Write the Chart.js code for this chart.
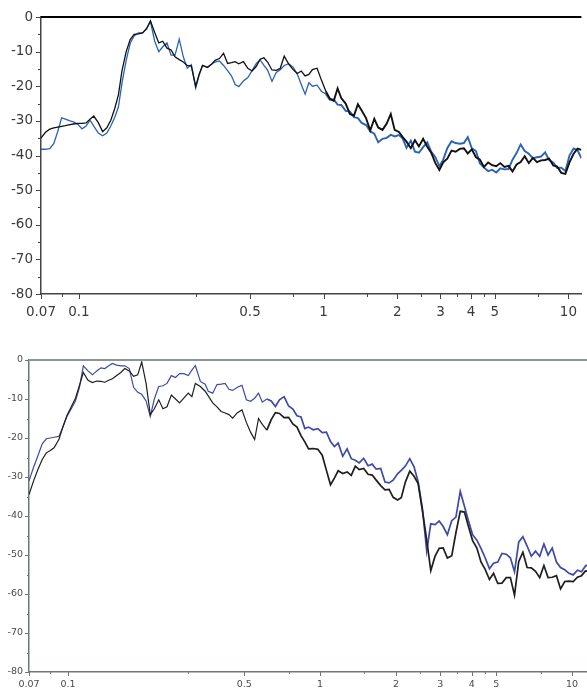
<!DOCTYPE html>
<html>
<head>
<meta charset="utf-8">
<script src="https://cdn.jsdelivr.net/npm/chart.js@4.4.1/dist/chart.umd.min.js"></script>
<style>
    html, body { margin: 0; padding: 0; background: #fff; width: 587px; height: 688px; overflow: hidden; }
    .box { position: absolute; left: 0; width: 587px; }
    #boxTop { top: 0; height: 330px; }
    #boxBottom { top: 340px; height: 370px; }
</style>
</head>
<body>
<div class="box" id="boxTop"><canvas id="chartTop"></canvas></div>
<div class="box" id="boxBottom"><canvas id="chartBottom"></canvas></div>
<script>
/* frequences (axe log) communes aux deux graphiques */
const freq = [
    0.07, 0.073, 0.076, 0.079, 0.082, 0.085, 0.088, 0.092, 0.095, 0.099,
    0.103, 0.107, 0.111, 0.115, 0.12, 0.125, 0.13, 0.135, 0.14, 0.145,
    0.15, 0.156, 0.162, 0.168, 0.175, 0.182, 0.189, 0.196, 0.204, 0.212,
    0.22, 0.229, 0.238, 0.247, 0.257, 0.267, 0.277, 0.288, 0.3, 0.31,
    0.32, 0.335, 0.35, 0.36, 0.375, 0.39, 0.405, 0.42, 0.435, 0.45,
    0.47, 0.49, 0.51, 0.53, 0.55, 0.57, 0.59, 0.615, 0.64, 0.665,
    0.69, 0.72, 0.75, 0.78, 0.81, 0.84, 0.87, 0.9, 0.94, 0.98,
    1.02, 1.06, 1.1, 1.14, 1.18, 1.23, 1.28, 1.33, 1.38, 1.43,
    1.49, 1.55, 1.61, 1.67, 1.74, 1.81, 1.88, 1.95, 2.03, 2.1,
    2.18, 2.27, 2.36, 2.45, 2.55, 2.65, 2.75, 2.86, 2.97, 3.08,
    3.2, 3.33, 3.46, 3.6, 3.74, 3.88, 4.03, 4.19, 4.35, 4.52,
    4.7, 4.88, 5.07, 5.27, 5.48, 5.69, 5.91, 6.14, 6.38, 6.63,
    6.89, 7.16, 7.44, 7.73, 8.03, 8.34, 8.67, 9.0, 9.35, 9.72,
    10.1, 10.5, 10.9, 11.3, 11.6
];

/* graphique du haut */
const topBlack = [
    -35, -33.3, -32.4, -32, -31.8, -31.6, -31.4, -31.1, -30.9, -30.7,
    -30.7, -30.6, -29.5, -28.6, -30.5, -33.1, -32, -29.8, -26.5, -22.5,
    -15.5, -10, -6.5, -5, -4.9, -4.6, -3.3, -1.1, -4.5, -7.5,
    -7, -9, -9.5, -11.5, -12.3, -13, -14, -14.2, -20, -16.5,
    -14, -14.6, -13.5, -12.5, -12, -10.5, -13.4, -13.2, -12.9, -13.5,
    -12.9, -14.8, -15.6, -14.3, -12.2, -11.8, -13, -15.3, -15.4, -14.8,
    -11.3, -13.6, -15.2, -16.3, -15.6, -17, -16.6, -15.2, -14.8, -18.3,
    -21.4, -23.6, -24.2, -20.6, -23.4, -25, -28, -28.5, -25.2, -27,
    -29.2, -32.8, -29.4, -31.9, -32.6, -30.8, -28, -32.6, -33.2, -34.6,
    -36, -37.9, -35.6, -37.4, -35.2, -37.5, -39.2, -42.2, -44.2, -42,
    -40.9, -38.6, -38.9, -38.1, -37.9, -39.4, -38.2, -40.5, -41.2, -43.3,
    -42, -42.8, -43.1, -42.2, -43.3, -43, -44.6, -42.6, -41.9, -40.2,
    -42.2, -40.7, -41.9, -41.4, -41.3, -40.9, -42.9, -43.2, -45, -45.3,
    -42, -39.5, -38, -38.4, -38.8
];
const topBlue = [
    -38.2, -38.2, -38, -36.5, -33, -29.1, -29.5, -30, -30.3, -31,
    -32.3, -31.5, -29.8, -31.5, -33.5, -34.3, -33.5, -31.5, -29, -26,
    -19, -12.5, -7.6, -5.5, -4.6, -4.6, -3.5, -1.3, -7, -10,
    -8.6, -7.5, -11, -11, -6.4, -11.5, -14.8, -13.8, -20.5, -16.8,
    -14, -14.5, -13.5, -13, -12.7, -14, -15.5, -17, -19.5, -20.1,
    -18.5, -17.5, -15.5, -13.5, -12.4, -14, -15.3, -18.6, -16, -15.2,
    -14, -13.5, -14.5, -16.5, -19.5, -22.3, -19, -20, -19.7, -21.5,
    -22.2, -23.9, -23.8, -25.3, -25.4, -27.1, -27.3, -28.9, -29.2, -30.6,
    -31.2, -33, -33.7, -36.2, -35.2, -34.9, -34, -34.5, -34.1, -35,
    -37.8, -35.7, -38.9, -39.2, -37.6, -36.2, -38.9, -40.5, -43.1, -41.2,
    -37.9, -35.9, -36.4, -36.6, -36.4, -34.7, -37.9, -38.7, -42.3, -43.5,
    -44.5, -44.1, -44.9, -43.7, -44, -43.9, -41.2, -39.3, -36.8, -38.7,
    -39.5, -40.8, -40.5, -40.3, -39.1, -41.3, -42, -43.6, -43.5, -44.5,
    -40, -38, -38.5, -40.8, -40.5
];

/* graphique du bas */
const bottomBlack = [
    -34.5, -31, -28, -25.5, -23.8, -23.2, -22.5, -20.4, -17.5, -14.2,
    -12, -9.8, -6.5, -3.2, -5.2, -5.8, -5.4, -5.5, -5.7, -5.2,
    -4.8, -4, -3.2, -2.2, -2.8, -4.2, -3.8, -0.5, -6, -14,
    -12.5, -10.2, -12.5, -12, -9, -10, -11, -9.8, -8.5, -9.4,
    -6, -6.8, -8, -9.2, -11, -12, -13.2, -13.6, -14, -14.9,
    -13.5, -12.8, -16, -18.5, -20.4, -15, -16.5, -18, -15.3, -13.5,
    -13.7, -14.8, -14.7, -16.4, -17.2, -19.4, -21, -22.8, -22.7, -22.9,
    -24.4, -28.3, -32, -30.3, -28.4, -29.1, -28.7, -29.6, -27.2, -28.1,
    -27.8, -29.3, -29.5, -30.8, -32.2, -33.3, -33.2, -35.2, -35.9, -35.3,
    -31.3, -28.5, -29.8, -31.7, -38.8, -46.2, -54, -50.3, -48.3, -48.2,
    -50.8, -50.2, -44.3, -38.8, -39, -42.7, -46.3, -48.2, -51.8, -53.7,
    -56.3, -54.7, -57.3, -57.2, -55.8, -55.8, -60.3, -51.7, -49.3, -53.2,
    -53.3, -54.2, -55.8, -52.7, -55.8, -55.7, -55.3, -58.7, -56.8, -56.7,
    -56.8, -55.7, -55.3, -54.1, -54.2
];
const bottomBlue = [
    -31, -27.5, -24.5, -21.5, -20.2, -20, -19.8, -19.6, -17.5, -14.5,
    -12.5, -10.5, -7, -1.5, -2.8, -3.8, -2.8, -2, -2.2, -1.5,
    -0.9, -1.3, -1.5, -1.5, -2.2, -7, -8.3, -8.8, -10.5, -14.5,
    -10, -6.8, -6.6, -6, -4, -4.5, -3.5, -3.5, -4, -2.6,
    -1.4, -5.5, -6.2, -8, -8.5, -6.3, -6.2, -6, -7.5, -7.8,
    -7, -6.5, -10.2, -10.6, -9.8, -8.5, -10.8, -10, -10.5, -11.9,
    -10.2, -9.4, -11.8, -12.6, -14.3, -14.6, -17.6, -17.2, -17.9, -17.6,
    -18.6, -18.5, -20.9, -22.2, -21.3, -24.7, -22.8, -25.3, -25.7, -26.4,
    -25.2, -27.1, -26.7, -28, -27.8, -31.3, -31.5, -30.8, -29.2, -28.3,
    -27.2, -25.3, -27.4, -31.2, -38.3, -49, -42, -42.2, -41.3, -42.7,
    -44.8, -41.2, -40.3, -33.7, -37.5, -41.2, -44.8, -46.2, -48.3, -50.7,
    -53.5, -52.1, -51.8, -49.6, -49.8, -50.7, -54.3, -46.7, -45.3, -47.7,
    -50.3, -49, -50.3, -47.2, -50, -48.2, -51.8, -53.2, -53.8, -54.7,
    -55.1, -53.9, -54.3, -52.8, -52.5
];

/* graduations */
const xTickValues = [0.07, 0.1, 0.5, 1, 2, 3, 4, 5, 10];
const xMinorTicks = [0.085, 0.3, 0.75, 1.5, 2.5, 3.5, 4.5, 7.5];
const yTickValues = [0, -10, -20, -30, -40, -50, -60, -70, -80];
const yMinorTicks = [-5, -15, -25, -35, -45, -55, -65, -75];

function points(values) {
    return values.map(function(v, i) {
        return { x: freq[i], y: v };
    });
}

/* dessine les petits traits des axes + la ligne du haut */
const axisTicks = {
    id: 'axisTicks',
    afterDatasetsDraw(chart, args, o) {
        const c = chart.ctx, a = chart.chartArea;
        const sx = chart.scales.x, sy = chart.scales.y;
        c.save();
        c.strokeStyle = o.tickColor;
        c.lineWidth = 1;
        c.beginPath();
        xTickValues.forEach(function(v) {
            const p = Math.round(sx.getPixelForValue(v)) + 0.5;
            c.moveTo(p, a.bottom); c.lineTo(p, a.bottom + o.major);
        });
        xMinorTicks.forEach(function(v) {
            const p = Math.round(sx.getPixelForValue(v)) + 0.5;
            c.moveTo(p, a.bottom); c.lineTo(p, a.bottom + o.minor);
        });
        yTickValues.forEach(function(v) {
            const p = Math.round(sy.getPixelForValue(v)) + 0.5;
            c.moveTo(a.left, p); c.lineTo(a.left - o.major, p);
        });
        yMinorTicks.forEach(function(v) {
            const p = Math.round(sy.getPixelForValue(v)) + 0.5;
            c.moveTo(a.left, p); c.lineTo(a.left - o.minor, p);
        });
        c.stroke();
        c.strokeStyle = o.frameColor;
        c.lineWidth = o.frameWidth;
        c.beginPath();
        c.moveTo(a.left, a.top);
        c.lineTo(a.right, a.top);
        c.stroke();
        c.restore();
    }
};

function makeChart(id, s) {
    const ctx = document.getElementById(id).getContext('2d');
    // le trait est plus epais la ou le signal est bruite
    const noisyWidth = function(seg) {
        return seg.p0.parsed.x >= s.noiseFrom ? s.noiseWidth : s.lineWidth;
    };
    return new Chart(ctx, {
        type: 'line',
        data: {
            datasets: [{
                label: 'noir',
                data: points(s.black),
                borderColor: s.blackColor,
                borderWidth: s.lineWidth,
                segment: { borderWidth: noisyWidth },
                pointRadius: 0,
                tension: 0
            }, {
                label: 'bleu',
                data: points(s.blue),
                borderColor: s.blueColor,
                borderWidth: s.lineWidth,
                segment: { borderWidth: noisyWidth },
                pointRadius: 0,
                tension: 0
            }]
        },
        options: {
            responsive: true,
            maintainAspectRatio: false,
            animation: false,
            layout: { padding: { top: s.padTop, left: 0, right: 0, bottom: 0 } },
            plugins: {
                legend: { display: false },
                tooltip: { enabled: false },
                axisTicks: {
                    tickColor: s.axisColor,
                    frameColor: s.frameColor,
                    frameWidth: 2,
                    major: s.major,
                    minor: s.minor
                }
            },
            scales: {
                x: {
                    type: 'logarithmic',
                    min: 0.07,
                    max: s.xMax,
                    afterBuildTicks: function(scale) {
                        scale.ticks = xTickValues.map(function(v) { return { value: v }; });
                    },
                    afterFit: function(scale) { scale.height = s.xHeight; },
                    grid: { display: true, drawOnChartArea: false, drawTicks: false },
                    border: { display: true, color: s.axisColor, width: 1.5 },
                    ticks: {
                        autoSkip: false,
                        maxRotation: 0,
                        padding: s.xPad,
                        color: s.textColor,
                        font: { family: "'DejaVu Sans', sans-serif", size: s.fontSize },
                        callback: function(v) { return String(v); }
                    }
                },
                y: {
                    min: -80,
                    max: 0,
                    afterFit: function(scale) { scale.width = s.yWidth; },
                    grid: { display: true, drawOnChartArea: false, drawTicks: false },
                    border: { display: true, color: s.axisColor, width: 1.5 },
                    ticks: {
                        stepSize: 10,
                        padding: s.yPad,
                        color: s.textColor,
                        font: { family: "'DejaVu Sans', sans-serif", size: s.fontSize }
                    }
                }
            }
        },
        plugins: [axisTicks]
    });
}

const chartTop = makeChart('chartTop', {
    black: topBlack, blue: topBlue,
    blackColor: '#111111', blueColor: '#2a62b8', lineWidth: 1.3,
    noiseFrom: 1.0, noiseWidth: 1.9,
    padTop: 17, xHeight: 36, yWidth: 41, xMax: 11.3,
    xPad: 10, yPad: 8, fontSize: 13.5, major: 5, minor: 3,
    textColor: '#3a3a3a', axisColor: '#444444', frameColor: '#000000'
});

const chartBottom = makeChart('chartBottom', {
    black: bottomBlack, blue: bottomBlue,
    blackColor: '#1e1e1e', blueColor: '#3d4aa8', lineWidth: 1.2,
    noiseFrom: 0.6, noiseWidth: 1.7,
    padTop: 20, xHeight: 38, yWidth: 29, xMax: 11.46,
    xPad: 7, yPad: 6, fontSize: 9.5, major: 4, minor: 2,
    textColor: '#4a4a4a', axisColor: '#6f7878', frameColor: '#8a9595'
});
</script>
</body>
</html>
